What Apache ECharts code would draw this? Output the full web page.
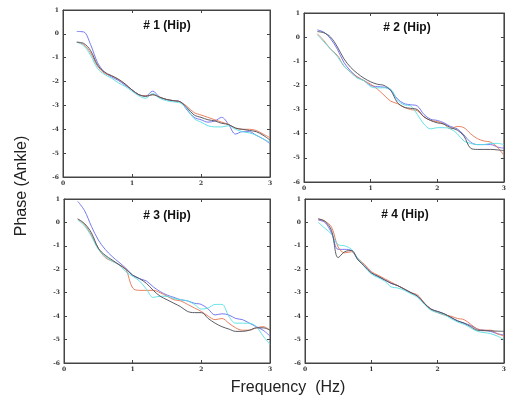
<!DOCTYPE html>
<html>
<head>
<meta charset="utf-8">
<script src="https://cdn.jsdelivr.net/npm/echarts@6/dist/echarts.min.js"></script>
<style>html,body{margin:0;padding:0;background:#fff;}#chart{width:509px;height:408px;}</style>
</head>
<body>
<div id="chart"></div>
<script>
var freqs = [0.2,0.3,0.4,0.5,0.6,0.7,0.8,0.9,1.0,1.1,1.2,1.3,1.4,1.5,1.6,1.7,1.8,1.9,2.0,2.1,2.2,2.3,2.4,2.5,2.6,2.7,2.8,2.9,3.0];
var panelTitles = ['# 1 (Hip)','# 2 (Hip)','# 3 (Hip)','# 4 (Hip)'];
var seriesNames = ['blue','red','cyan','dark'];
var xTicks = [0,1,2,3];
var yTicks = [1,0,-1,-2,-3,-4,-5,-6];

var p1Blue = [0.1,0.08,-0.45,-1.2,-1.6,-1.8,-1.95,-2.15,-2.35,-2.55,-2.6,-2.4,-2.65,-2.75,-2.8,-2.85,-3.2,-3.5,-3.6,-3.7,-3.65,-3.5,-3.8,-4.2,-4.1,-4.1,-4.25,-4.4,-4.6];
var p1Red  = [-0.35,-0.45,-0.8,-1.35,-1.65,-1.75,-1.9,-2.1,-2.35,-2.55,-2.6,-2.55,-2.65,-2.75,-2.8,-2.85,-3.05,-3.3,-3.4,-3.5,-3.6,-3.7,-3.8,-3.95,-4.0,-4.0,-4.05,-4.2,-4.35];
var p1Cyan = [-0.35,-0.5,-0.9,-1.45,-1.7,-1.85,-2.05,-2.2,-2.4,-2.6,-2.7,-2.5,-2.7,-2.8,-2.85,-2.9,-3.15,-3.55,-3.7,-3.85,-3.9,-3.9,-3.85,-4.0,-4.1,-4.15,-4.25,-4.4,-4.55];
var p1Dark = [-0.35,-0.4,-0.7,-1.3,-1.6,-1.75,-1.9,-2.1,-2.35,-2.55,-2.62,-2.55,-2.65,-2.75,-2.8,-2.85,-3.1,-3.4,-3.5,-3.6,-3.65,-3.75,-3.8,-3.95,-4.0,-4.05,-4.1,-4.25,-4.45];

var p2Blue = [0.3,0.2,-0.07,-0.5,-1.05,-1.4,-1.65,-1.8,-2.0,-2.05,-2.07,-2.2,-2.55,-2.75,-2.8,-2.85,-3.2,-3.4,-3.45,-3.55,-3.7,-3.8,-4.05,-4.35,-4.45,-4.45,-4.45,-4.55,-4.6];
var p2Red  = [0.14,-0.15,-0.5,-0.75,-1.2,-1.45,-1.65,-1.8,-1.95,-2.15,-2.4,-2.65,-2.75,-2.9,-3.0,-3.05,-3.3,-3.45,-3.5,-3.6,-3.8,-3.7,-3.75,-4.0,-4.2,-4.3,-4.35,-4.55,-4.9];
var p2Cyan = [0.1,-0.2,-0.5,-0.8,-1.2,-1.45,-1.7,-1.8,-2.05,-2.1,-2.1,-2.15,-2.6,-2.8,-2.85,-3.2,-3.6,-3.8,-3.75,-3.75,-3.8,-4.0,-4.3,-4.4,-4.45,-4.45,-4.4,-4.4,-4.45];
var p2Dark = [0.23,0.18,0.0,-0.4,-0.9,-1.25,-1.5,-1.7,-1.85,-1.95,-2.0,-2.2,-2.7,-2.9,-2.95,-3.0,-3.3,-3.45,-3.55,-3.6,-3.75,-3.85,-4.1,-4.6,-4.65,-4.65,-4.65,-4.67,-4.7];

var p3Blue = [0.9,0.5,-0.17,-0.75,-1.15,-1.45,-1.7,-1.95,-2.25,-2.4,-2.5,-2.75,-2.95,-3.1,-3.2,-3.3,-3.35,-3.45,-3.5,-3.7,-3.95,-3.9,-3.95,-4.1,-4.15,-4.3,-4.45,-4.6,-4.85];
var p3Red  = [0.15,-0.1,-0.55,-1.1,-1.5,-1.65,-1.8,-2.0,-2.8,-2.9,-2.9,-2.9,-3.0,-3.15,-3.3,-3.35,-3.5,-3.65,-3.8,-4.0,-4.15,-4.1,-4.3,-4.5,-4.6,-4.6,-4.5,-4.45,-4.6];
var p3Cyan = [0.1,-0.15,-0.6,-1.15,-1.45,-1.65,-1.8,-2.1,-2.3,-2.5,-2.85,-3.2,-3.15,-3.15,-3.25,-3.3,-3.35,-3.5,-3.7,-3.65,-3.5,-3.5,-4.0,-4.3,-4.3,-4.3,-4.45,-4.85,-5.2];
var p3Dark = [0.15,-0.05,-0.45,-1.1,-1.4,-1.6,-1.8,-2.0,-2.25,-2.4,-2.6,-2.9,-3.15,-3.3,-3.45,-3.6,-3.8,-3.85,-3.85,-4.1,-4.3,-4.45,-4.55,-4.65,-4.65,-4.6,-4.5,-4.5,-4.6];

var p4Blue = [0.1,0.0,-0.45,-1.15,-1.15,-1.2,-1.6,-1.87,-2.15,-2.3,-2.45,-2.6,-2.7,-2.85,-3.0,-3.15,-3.45,-3.7,-3.8,-3.9,-4.05,-4.2,-4.3,-4.4,-4.55,-4.6,-4.65,-4.75,-4.8];
var p4Red  = [0.15,0.05,-0.2,-1.05,-1.3,-1.25,-1.55,-1.8,-2.1,-2.25,-2.4,-2.55,-2.7,-2.85,-3.0,-3.1,-3.45,-3.7,-3.85,-3.95,-4.0,-4.1,-4.15,-4.35,-4.55,-4.6,-4.6,-4.75,-4.85];
var p4Cyan = [0.0,-0.25,-0.5,-0.95,-1.0,-1.15,-1.55,-1.9,-2.2,-2.35,-2.5,-2.75,-2.8,-2.9,-3.05,-3.2,-3.5,-3.75,-3.85,-3.95,-4.1,-4.25,-4.35,-4.5,-4.65,-4.7,-4.75,-4.85,-5.0];
var p4Dark = [0.15,0.05,-0.35,-1.5,-1.25,-1.2,-1.6,-1.87,-2.15,-2.3,-2.45,-2.6,-2.7,-2.85,-3.0,-3.15,-3.45,-3.7,-3.8,-3.9,-4.05,-4.2,-4.3,-4.45,-4.6,-4.62,-4.63,-4.64,-4.65];

var panels = [
  [p1Blue,p1Red,p1Cyan,p1Dark],
  [p2Blue,p2Red,p2Cyan,p2Dark],
  [p3Blue,p3Red,p3Cyan,p3Dark],
  [p4Blue,p4Red,p4Cyan,p4Dark]
];

var colors = ['#6a6af2','#e5744f','#55e0e4','#4a4a55'];
var grids = [
  {left:63, top:10, width:207, height:167},
  {left:304, top:13, width:204, height:169},
  {left:64, top:199, width:206, height:164},
  {left:305, top:199, width:203, height:164}
];
var titlePos = [[167,26],[407,28],[167,216],[405,215]];

var tickLabelStyle = {fontFamily:'DejaVu Serif', fontSize:6, fontWeight:'bold', color:'#333'};
function axisLine(){ return {show:true, onZero:false, lineStyle:{color:'#444', width:1}}; }
function axisTick(){ return {show:true, inside:true, length:3, lineStyle:{color:'#444'}}; }
var option = {
  animation:false,
  backgroundColor:'#fff',
  grid: grids.map(function(g){ return Object.assign({show:true, borderColor:'#444', borderWidth:1, containLabel:false}, g); }),
  xAxis: [], yAxis: [], series: [],
  graphic: []
};
grids.forEach(function(g, gi){
  option.xAxis.push({type:'value', gridIndex:gi, min:xTicks[0], max:xTicks[xTicks.length-1], interval:1, position:'bottom',
    axisLine:axisLine(), axisTick:axisTick(),
    axisLabel:Object.assign({margin:3}, tickLabelStyle), splitLine:{show:false}});
  option.xAxis.push({type:'value', gridIndex:gi, min:xTicks[0], max:xTicks[xTicks.length-1], interval:1, position:'top',
    axisLine:axisLine(), axisTick:axisTick(),
    axisLabel:{show:false}, splitLine:{show:false}});
  option.yAxis.push({type:'value', gridIndex:gi, min:yTicks[yTicks.length-1], max:yTicks[0], interval:1, position:'left',
    axisLine:axisLine(), axisTick:axisTick(),
    axisLabel:Object.assign({margin:4}, tickLabelStyle), splitLine:{show:false}});
  option.yAxis.push({type:'value', gridIndex:gi, min:yTicks[yTicks.length-1], max:yTicks[0], interval:1, position:'right',
    axisLine:axisLine(), axisTick:axisTick(),
    axisLabel:{show:false}, splitLine:{show:false}});
  panels[gi].forEach(function(arr, si){
    option.series.push({type:'line', name:seriesNames[si], xAxisIndex:gi*2, yAxisIndex:gi*2,
      data: freqs.map(function(f,i){ return [f, arr[i]]; }),
      smooth:0.35, showSymbol:false, symbol:'none',
      lineStyle:{color:colors[si], width:1, opacity:0.9}, z:3});
  });
  option.graphic.push({type:'text', x:titlePos[gi][0], y:titlePos[gi][1],
    style:{text:panelTitles[gi], fontFamily:'Liberation Sans', fontSize:12, fontWeight:'bold', fill:'#111', textAlign:'center', textVerticalAlign:'middle'}});
});
option.graphic.push({type:'text', x:22, y:186, rotation:Math.PI/2,
  style:{text:'Phase (Ankle)', fontFamily:'Liberation Sans', fontSize:16, fill:'#222', textAlign:'center', textVerticalAlign:'middle'}});
option.graphic.push({type:'text', x:288, y:388,
  style:{text:'Frequency  (Hz)', fontFamily:'Liberation Sans', fontSize:16, fill:'#222', textAlign:'center', textVerticalAlign:'middle'}});

var chart = echarts.init(document.getElementById('chart'), null, {renderer:'canvas'});
chart.setOption(option);
</script>
</body>
</html>
